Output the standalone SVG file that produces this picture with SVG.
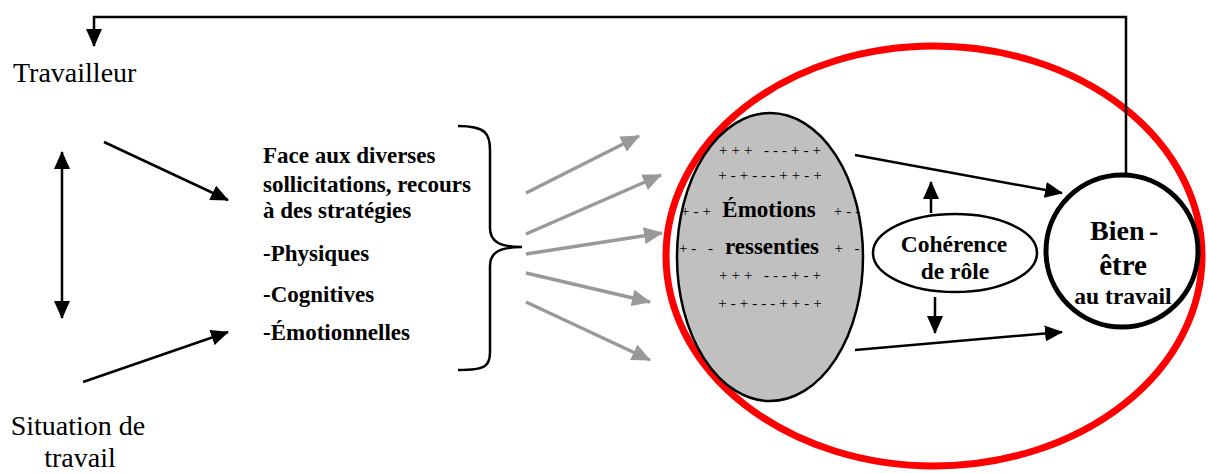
<svg xmlns="http://www.w3.org/2000/svg" width="1208" height="473" viewBox="0 0 1208 473">
<style>
text{font-family:"Liberation Serif","Times New Roman",serif;fill:#000}
.b{font-weight:bold}
.blk{stroke:#000;stroke-width:2.5;fill:none}
.gry{stroke:#999;stroke-width:3.5;fill:none}
.pm{font-size:15px;letter-spacing:4px}
</style>
<defs>
<marker id="ab" markerUnits="userSpaceOnUse" markerWidth="18" markerHeight="16" refX="17" refY="8" orient="auto-start-reverse" viewBox="0 0 18 16">
<path d="M0,0 L18,8 L0,16 Z" fill="#000"/>
</marker>
<marker id="ag" markerUnits="userSpaceOnUse" markerWidth="19" markerHeight="17" refX="18" refY="8.5" orient="auto" viewBox="0 0 19 17">
<path d="M0,0 L19,8.5 L0,17 Z" fill="#999"/>
</marker>
</defs>
<rect width="1208" height="473" fill="#fff"/>

<g id="red-group">
<ellipse cx="934" cy="256" rx="268" ry="210" fill="none" stroke="#f00" stroke-width="7"/>
</g>

<g id="travailleur">
<text x="13" y="82" font-size="28">Travailleur</text>
</g>
<g id="situation">
<text x="78" y="435" font-size="28" text-anchor="middle">Situation de</text>
<text x="80" y="467" font-size="28" text-anchor="middle">travail</text>
</g>

<g id="strategies">
<text class="b" x="263" y="163" font-size="23">Face aux diverses</text>
<text class="b" x="263" y="192" font-size="23">sollicitations, recours</text>
<text class="b" x="263" y="218" font-size="23">à des stratégies</text>
<text class="b" x="263" y="261" font-size="23">-Physiques</text>
<text class="b" x="263" y="302" font-size="23">-Cognitives</text>
<text class="b" x="263" y="340" font-size="23">-Émotionnelles</text>
<path d="M458,126 C486,126 490,134 490,150 L490,228 C490,242 500,247 522,247 C500,247 490,252 490,266 L490,352 C490,366 486,370 458,370" class="blk"/>
</g>

<g id="emotions">
<ellipse cx="770" cy="257" rx="93" ry="144" fill="#c0c0c0" stroke="#000" stroke-width="2.5"/>
<text class="pm" x="772" y="155" text-anchor="middle">+++ ---+-+</text>
<text class="pm" x="772" y="180" text-anchor="middle">+-+---++-+</text>
<text class="pm" x="698" y="216" text-anchor="middle">+-+</text>
<text class="pm" x="849" y="216" text-anchor="middle">+--</text>
<text class="b" x="769" y="217" font-size="23" text-anchor="middle">Émotions</text>
<text class="pm" x="698" y="253" text-anchor="middle">+- -</text>
<text class="pm" x="849" y="253" text-anchor="middle">+ -</text>
<text class="b" x="772" y="254" font-size="23" text-anchor="middle">ressenties</text>
<text class="pm" x="772" y="280" text-anchor="middle">+++ ---+-+</text>
<text class="pm" x="772" y="308" text-anchor="middle">+-+---++-+</text>
</g>

<g id="coherence">
<ellipse cx="955" cy="253" rx="82" ry="39" fill="#fff" stroke="#000" stroke-width="2.5"/>
<text class="b" x="954" y="252" font-size="23.5" text-anchor="middle">Cohérence</text>
<text class="b" x="955" y="279" font-size="23.5" text-anchor="middle">de rôle</text>
</g>

<g id="bien-etre">
<circle cx="1122" cy="251" r="76" fill="#fff" stroke="#000" stroke-width="5"/>
<text class="b" x="1090" y="240" font-size="28">Bien</text>
<text class="b" x="1149" y="240" font-size="28">-</text>
<text class="b" x="1123" y="275" font-size="29" text-anchor="middle">être</text>
<text class="b" x="1123" y="304" font-size="23.5" text-anchor="middle">au travail</text>
</g>

<g id="connectors">
<path d="M1126,173 V17 H94 V46" class="blk" marker-end="url(#ab)"/>
<line x1="62" y1="152" x2="62" y2="318" class="blk" marker-start="url(#ab)" marker-end="url(#ab)"/>
<line x1="104" y1="142" x2="228" y2="200" class="blk" marker-end="url(#ab)"/>
<line x1="83" y1="382" x2="228" y2="332" class="blk" marker-end="url(#ab)"/>
<line x1="526" y1="193" x2="639" y2="136" class="gry" marker-end="url(#ag)"/>
<line x1="526" y1="234" x2="661" y2="175" class="gry" marker-end="url(#ag)"/>
<line x1="526" y1="254" x2="662" y2="233" class="gry" marker-end="url(#ag)"/>
<line x1="526" y1="273" x2="650" y2="302" class="gry" marker-end="url(#ag)"/>
<line x1="526" y1="302" x2="650" y2="360" class="gry" marker-end="url(#ag)"/>
<line x1="855" y1="155" x2="1062" y2="193" class="blk" marker-end="url(#ab)"/>
<line x1="855" y1="350" x2="1062" y2="332" class="blk" marker-end="url(#ab)"/>
<line x1="931" y1="213" x2="931" y2="182" class="blk" marker-end="url(#ab)"/>
<line x1="935" y1="297" x2="935" y2="333" class="blk" marker-end="url(#ab)"/>
</g>
</svg>
